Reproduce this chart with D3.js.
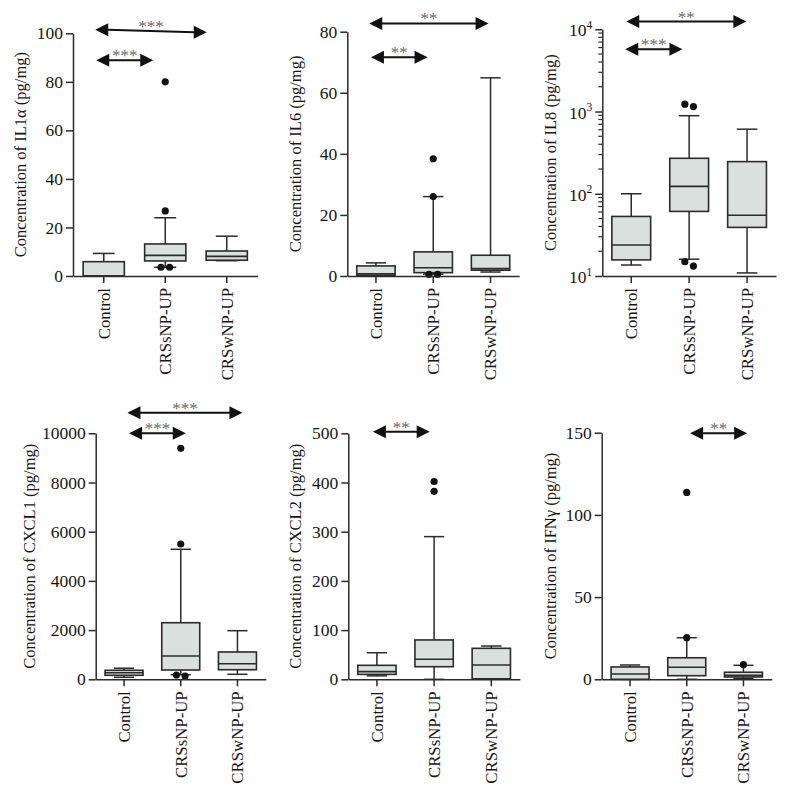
<!DOCTYPE html>
<html>
<head>
<meta charset="utf-8">
<script src="https://cdn.jsdelivr.net/npm/d3@7"></script>
<style>
  body { margin: 0; background: #ffffff; }
  svg { display: block; }
  text { font-family: "Liberation Serif", "DejaVu Serif", serif; }
</style>
</head>
<body>
<script>
// ---------------- DATA ----------------
const categories = ["Control", "CRSsNP-UP", "CRSwNP-UP"];

const panelTitles = [
  "Concentration of IL1\u03b1 (pg/mg)",
  "Concentration of IL6 (pg/mg)",
  "Concentration of IL8 (pg/mg)",
  "Concentration of CXCL1 (pg/mg)",
  "Concentration of CXCL2 (pg/mg)",
  "Concentration of IFN\u03b3 (pg/mg)"
];

// box stats per category: [min, q1, median, q3, max]
const il1aStats  = [[0, 0, 0, 5.9, 9.3], [3.6, 6.2, 8.5, 13.2, 24], [6.3, 6.5, 8.1, 10.3, 16.4]];
const il6Stats   = [[0, 0.2, 0.7, 3.3, 4.3], [0.6, 1.1, 2.7, 7.9, 26], [1.3, 1.9, 2.4, 6.8, 64.9]];
const il8Stats   = [[13.6, 15.7, 23.8, 53, 100], [16, 61, 123, 270, 890], [10.9, 39, 54.7, 246, 610]];
const cxcl1Stats = [[81, 163, 268, 366, 450], [187, 378, 947, 2300, 5285], [203, 390, 634, 1110, 1976]];
const cxcl2Stats = [[7, 10, 15.5, 28.4, 54], [0, 25.6, 40.6, 80, 290], [0, 1, 29, 63, 67.7]];
const ifngStats  = [[0, 0, 3.2, 7.5, 8.7], [0, 2.2, 7.3, 13.1, 25.3], [0.5, 1.4, 2.4, 4.3, 8.5]];

// outliers per category
const il1aOutliers  = [[], [80, 26.8, 3.6, 3.6], []];
const il6Outliers   = [[], [38.4, 26, 0.5, 0.5], []];
const il8Outliers   = [[], [1230, 1150, 13.2, 14.9], []];
const cxcl1Outliers = [[], [9390, 5500, 134, 175], []];
const cxcl2Outliers = [[], [402, 382], []];
const ifngOutliers  = [[], [113.7, 25.3], [8.9]];

// y tick values
const il1aTicks  = [0, 20, 40, 60, 80, 100];
const il6Ticks   = [0, 20, 40, 60, 80];
const il8Ticks   = [10, 100, 1000, 10000];
const cxcl1Ticks = [0, 2000, 4000, 6000, 8000, 10000];
const cxcl2Ticks = [0, 100, 200, 300, 400, 500];
const ifngTicks  = [0, 50, 100, 150];

// significance comparisons (category indices, label, level in data units)
const il1aSig  = [{from: 0, to: 2, label: "***", y1: 101.5, y2: 100.4}, {from: 0, to: 1, label: "***", y1: 88.9, y2: 88.9}];
const il6Sig   = [{from: 0, to: 2, label: "**", y1: 82.7, y2: 82.7}, {from: 0, to: 1, label: "**", y1: 71.6, y2: 71.6}];
const il8Sig   = [{from: 0, to: 2, label: "**", y1: 12400, y2: 12400}, {from: 0, to: 1, label: "***", y1: 5730, y2: 5730}];
const cxcl1Sig = [{from: 0, to: 2, label: "***", y1: 10837, y2: 10837}, {from: 0, to: 1, label: "***", y1: 10000, y2: 10000}];
const cxcl2Sig = [{from: 0, to: 1, label: "**", y1: 503, y2: 503}];
const ifngSig  = [{from: 1, to: 2, label: "**", y1: 149.6, y2: 149.6}];

// ---------------- LAYOUT ----------------
const layout = [
  {x0: 73,    step: 61.5, yTop: 33.3,  yBot: 276,   titleX: 20,    arrowDx: [[-8.5, -20], [-7.5, -12]]},
  {x0: 347.3, step: 57.3, yTop: 31.7,  yBot: 276,   titleX: 295.7, arrowDx: [[-6.7, -2], [-5, -5.7]]},
  {x0: 602.3, step: 57.9, yTop: 29.3,  yBot: 276,   titleX: 550.7, arrowDx: [[-5, -0.7], [-6, -6.7]]},
  {x0: 95.7,  step: 56.7, yTop: 433.3, yBot: 679.3, titleX: 29,    arrowDx: [[3.4, 5], [5, 5]]},
  {x0: 348.3, step: 57.2, yTop: 433.3, yBot: 679.3, titleX: 295.7, arrowDx: [[-4, -4.4]]},
  {x0: 601.7, step: 56.7, yTop: 432.7, yBot: 679.3, titleX: 550.7, arrowDx: [[3.4, 3.7]]}
];

const panels = [
  {title: panelTitles[0], stats: il1aStats,  outliers: il1aOutliers,  ticks: il1aTicks,  sig: il1aSig,  log: false},
  {title: panelTitles[1], stats: il6Stats,   outliers: il6Outliers,   ticks: il6Ticks,   sig: il6Sig,   log: false},
  {title: panelTitles[2], stats: il8Stats,   outliers: il8Outliers,   ticks: il8Ticks,   sig: il8Sig,   log: true},
  {title: panelTitles[3], stats: cxcl1Stats, outliers: cxcl1Outliers, ticks: cxcl1Ticks, sig: cxcl1Sig, log: false},
  {title: panelTitles[4], stats: cxcl2Stats, outliers: cxcl2Outliers, ticks: cxcl2Ticks, sig: cxcl2Sig, log: false},
  {title: panelTitles[5], stats: ifngStats,  outliers: ifngOutliers,  ticks: ifngTicks,  sig: ifngSig,  log: false}
];

const INK = "#2b2b2b";
const TXT = "#151515";
const BOX_FILL = "#d9e0de";
const TICK_FS = 17.5;
const LABEL_FS = 16.8;
const TITLE_FS = 16.5;

const svg = d3.select("body").append("svg").attr("width", 788).attr("height", 791);

panels.forEach((p, pi) => {
  const L = layout[pi];
  const g = svg.append("g");
  const x = d3.scaleBand().domain(categories).range([L.x0, L.x0 + 3 * L.step]).padding(0);
  const tMin = p.ticks[0], tMax = p.ticks[p.ticks.length - 1];
  const y = p.log
    ? d3.scaleLog().domain([tMin, tMax]).range([L.yBot, L.yTop])
    : d3.scaleLinear().domain([tMin, tMax]).range([L.yBot, L.yTop]);
  const bw = x.bandwidth();
  const boxW = bw * 0.67;
  const capW = boxW * 0.53;
  const cx = c => x(c) + bw / 2;

  // boxes
  p.stats.forEach((s, i) => {
    const c = cx(categories[i]);
    const [mn, q1, md, q3, mx] = s;
    const bg = g.append("g");
    bg.append("line").attr("x1", c).attr("x2", c).attr("y1", y(q3)).attr("y2", y(mx))
      .attr("stroke", INK).attr("stroke-width", 1.5);
    bg.append("line").attr("x1", c).attr("x2", c).attr("y1", y(q1)).attr("y2", y(mn))
      .attr("stroke", INK).attr("stroke-width", 1.5);
    [mn, mx].forEach(v => {
      bg.append("line").attr("x1", c - capW / 2).attr("x2", c + capW / 2).attr("y1", y(v)).attr("y2", y(v))
        .attr("stroke", INK).attr("stroke-width", 1.5);
    });
    bg.append("rect").attr("x", c - boxW / 2).attr("width", boxW)
      .attr("y", y(q3)).attr("height", Math.max(0.5, y(q1) - y(q3)))
      .attr("fill", BOX_FILL).attr("stroke", INK).attr("stroke-width", 1.6);
    bg.append("line").attr("x1", c - boxW / 2).attr("x2", c + boxW / 2).attr("y1", y(md)).attr("y2", y(md))
      .attr("stroke", INK).attr("stroke-width", 1.6);

    // outliers with small horizontal spread when overlapping
    const pts = p.outliers[i].map(v => ({v, py: y(v)})).sort((a, b) => a.py - b.py);
    const groups = [];
    pts.forEach(pt => {
      const last = groups[groups.length - 1];
      if (last && Math.abs(last[last.length - 1].py - pt.py) < 7) last.push(pt);
      else groups.push([pt]);
    });
    groups.forEach(gr => {
      gr.forEach((pt, k) => {
        const off = gr.length === 1 ? 0 : (k - (gr.length - 1) / 2) * 8.6;
        bg.append("circle").attr("cx", c + off).attr("cy", pt.py).attr("r", 3.6).attr("fill", "#111");
      });
    });
  });

  // y axis
  const yAxis = d3.axisLeft(y).tickValues(p.ticks).tickSize(7).tickSizeOuter(0).tickPadding(3);
  if (p.log) yAxis.tickFormat(() => "");
  else yAxis.tickFormat(d3.format("d"));
  const ya = g.append("g").attr("transform", `translate(${L.x0},0)`).call(yAxis);
  ya.select(".domain").attr("stroke", INK).attr("stroke-width", 1.5);
  ya.selectAll(".tick line").attr("stroke", INK).attr("stroke-width", 1.5);
  ya.selectAll(".tick text").attr("font-size", TICK_FS).attr("fill", TXT)
    .attr("font-family", "Liberation Serif, serif");

  if (p.log) {
    // minor ticks
    const minors = [];
    for (let e = 1; e < 4; e++) for (let m = 2; m <= 9; m++) minors.push(m * Math.pow(10, e));
    g.selectAll(".minor").data(minors).join("line")
      .attr("x1", L.x0 - 4).attr("x2", L.x0).attr("y1", d => y(d)).attr("y2", d => y(d))
      .attr("stroke", INK).attr("stroke-width", 1.2);
    // superscript labels
    p.ticks.forEach(t => {
      const exp = Math.round(Math.log10(t));
      const txt = g.append("text").attr("x", L.x0 - 10).attr("y", y(t) + 7)
        .attr("text-anchor", "end").attr("font-size", TICK_FS).attr("fill", TXT);
      txt.append("tspan").text("10");
      txt.append("tspan").attr("font-size", 11.5).attr("dy", -7.5).text(exp);
    });
  }

  // x axis
  const xAxis = d3.axisBottom(x).tickSize(7).tickSizeOuter(0).tickFormat("");
  const xa = g.append("g").attr("transform", `translate(0,${L.yBot})`).call(xAxis);
  xa.select(".domain").attr("stroke", INK).attr("stroke-width", 1.5);
  xa.selectAll(".tick line").attr("stroke", INK).attr("stroke-width", 1.5);

  categories.forEach(cat => {
    g.append("text")
      .attr("transform", `translate(${cx(cat)},${L.yBot + 12}) rotate(-90)`)
      .attr("text-anchor", "end").attr("dy", "0.35em")
      .attr("font-size", LABEL_FS).attr("fill", TXT).text(cat);
  });

  // title
  g.append("text")
    .attr("transform", `translate(${L.titleX},${(L.yTop + L.yBot) / 2}) rotate(-90)`)
    .attr("text-anchor", "middle").attr("dy", "0.35em")
    .attr("font-size", TITLE_FS).attr("fill", TXT).text(p.title);

  // significance arrows
  p.sig.forEach((s, si) => {
    const dx = L.arrowDx[si];
    const xa1 = cx(categories[s.from]) + dx[0];
    const xa2 = cx(categories[s.to]) + dx[1];
    const ya1 = y(s.y1), ya2 = y(s.y2);
    const head = 13, hh = 6.5;
    g.append("line").attr("x1", xa1 + head - 1).attr("x2", xa2 - head + 1)
      .attr("y1", ya1).attr("y2", ya2).attr("stroke", "#111").attr("stroke-width", 2);
    g.append("path").attr("d", `M${xa1},${ya1} L${xa1 + head},${ya1 - hh} L${xa1 + head},${ya1 + hh} Z`).attr("fill", "#111");
    g.append("path").attr("d", `M${xa2},${ya2} L${xa2 - head},${ya2 - hh} L${xa2 - head},${ya2 + hh} Z`).attr("fill", "#111");
    g.append("text").attr("x", (xa1 + xa2) / 2).attr("y", (ya1 + ya2) / 2 + 1)
      .attr("text-anchor", "middle").attr("font-size", 17).attr("fill", "#6a6a6a").text(s.label);
  });
});
</script>
</body>
</html>
